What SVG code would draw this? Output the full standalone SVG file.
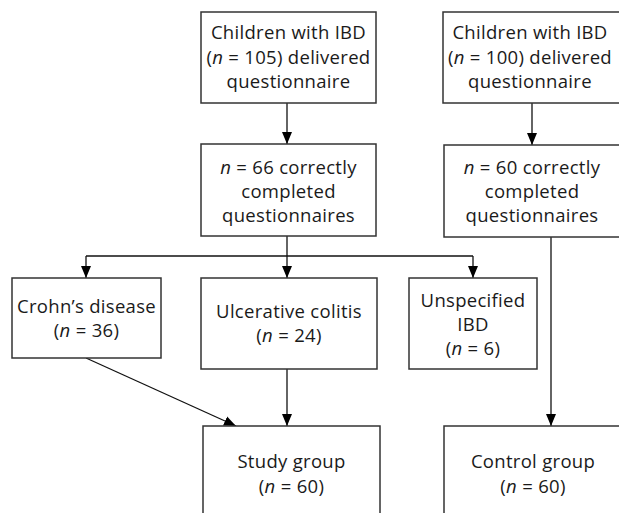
<svg xmlns="http://www.w3.org/2000/svg" width="619" height="513" viewBox="0 0 619 513">
<defs>
<marker id="ah" viewBox="0 0 12 10" refX="12" refY="5" markerWidth="12" markerHeight="11" markerUnits="userSpaceOnUse" orient="auto">
<path d="M0,0 L12,5 L0,10 Z" fill="#000"/>
</marker>
<style>
rect{fill:#fff;stroke:#333;stroke-width:1.5}
text{font-family:"Open Sans","Noto Sans",sans-serif;font-size:18.5px;fill:#1a1a1a;text-anchor:middle;letter-spacing:0.3px}
.i{font-style:italic}
.c{fill:none;stroke:#111;stroke-width:1.3}
.a{marker-end:url(#ah)}
</style>
</defs>
<rect x="0" y="0" width="619" height="513" style="fill:#fff;stroke:none"/>
<g id="connectors">
<line class="c a" x1="287" y1="103" x2="287" y2="144"/>
<line class="c a" x1="532" y1="103" x2="532" y2="145"/>
<line class="c a" x1="287" y1="236" x2="287" y2="278"/>
<polyline class="c" points="86,256 473,256"/>
<line class="c a" x1="86" y1="256" x2="86" y2="278"/>
<line class="c a" x1="473" y1="256" x2="473" y2="278"/>
<line class="c a" x1="287" y1="369" x2="287" y2="426"/>
<line class="c a" x1="86" y1="358" x2="236" y2="426"/>
<line class="c a" x1="551" y1="237" x2="551" y2="426"/>
</g>
<g id="n1">
<rect x="201" y="12" width="175" height="91"/>
<text x="288.5" y="39">Children with IBD</text>
<text x="288.5" y="64">(<tspan class="i">n</tspan> = 105) delivered</text>
<text x="288.5" y="88">questionnaire</text>
</g>
<g id="n2">
<rect x="443" y="12" width="180" height="91"/>
<text x="530" y="39">Children with IBD</text>
<text x="530" y="64">(<tspan class="i">n</tspan> = 100) delivered</text>
<text x="530" y="88">questionnaire</text>
</g>
<g id="n3">
<rect x="201" y="144" width="175" height="92"/>
<text x="288.5" y="174"><tspan class="i">n</tspan> = 66 correctly</text>
<text x="288.5" y="198">completed</text>
<text x="288.5" y="222">questionnaires</text>
</g>
<g id="n4">
<rect x="444" y="145" width="180" height="92"/>
<text x="532" y="174"><tspan class="i">n</tspan> = 60 correctly</text>
<text x="532" y="198">completed</text>
<text x="532" y="222">questionnaires</text>
</g>
<g id="n5">
<rect x="12" y="278" width="149" height="80"/>
<text x="86.5" y="313">Crohn’s disease</text>
<text x="86.5" y="337">(<tspan class="i">n</tspan> = 36)</text>
</g>
<g id="n6">
<rect x="201" y="278" width="176" height="91"/>
<text x="289" y="318">Ulcerative colitis</text>
<text x="289" y="342">(<tspan class="i">n</tspan> = 24)</text>
</g>
<g id="n7">
<rect x="409" y="278" width="128" height="91"/>
<text x="473" y="307">Unspecified</text>
<text x="473" y="331">IBD</text>
<text x="473" y="355">(<tspan class="i">n</tspan> = 6)</text>
</g>
<g id="n8">
<rect x="203" y="426" width="177" height="100"/>
<text x="291.5" y="468">Study group</text>
<text x="291.5" y="493">(<tspan class="i">n</tspan> = 60)</text>
</g>
<g id="n9">
<rect x="444" y="426" width="180" height="100"/>
<text x="533" y="468">Control group</text>
<text x="533" y="493">(<tspan class="i">n</tspan> = 60)</text>
</g>
</svg>
